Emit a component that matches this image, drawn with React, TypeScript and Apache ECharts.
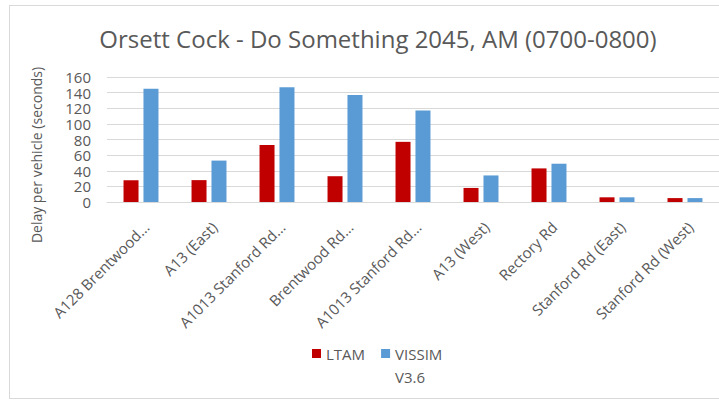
import React, { useEffect, useRef } from "react";
import * as echarts from "echarts";

const titleText = "Orsett Cock - Do Something 2045, AM (0700-0800)";
const yAxisName = "Delay per vehicle (seconds)";
const categories = [
  "A128 Brentwood…",
  "A13 (East)",
  "A1013 Stanford Rd…",
  "Brentwood Rd…",
  "A1013 Stanford Rd…",
  "A13 (West)",
  "Rectory Rd",
  "Stanford Rd (East)",
  "Stanford Rd (West)",
];
const ltam = [28, 28, 73, 33, 77, 18, 43, 6, 5];
const vissim = [145, 53, 147, 137, 117, 34, 49, 6, 5];
const seriesNames = ["LTAM", "VISSIM"];
const legendSubText = "V3.6";

const FONT = "'Open Sans', sans-serif";
const TXT = "#595959";

export default function App() {
  const ref = useRef<HTMLDivElement>(null);
  useEffect(() => {
    if (!ref.current) return;
    const chart = echarts.init(ref.current, null, { renderer: "svg" });
    chart.setOption({
      animation: false,
      textStyle: { fontFamily: FONT },
      title: {
        text: titleText,
        left: 373,
        top: 21,
        textAlign: "center",
        textStyle: { fontFamily: FONT, fontSize: 24, fontWeight: "normal", color: TXT },
      },
      legend: {
        left: 312,
        top: 346,
        padding: 0,
        icon: "rect",
        itemWidth: 9,
        itemHeight: 9,
        itemGap: 16,
        textStyle: { fontFamily: FONT, fontSize: 15, color: TXT },
        data: seriesNames,
      },
      graphic: [
        {
          type: "text",
          x: 395,
          y: 377,
          style: {
            text: legendSubText,
            fontFamily: FONT,
            fontSize: 15,
            fill: TXT,
            textVerticalAlign: "middle",
          },
        },
        {
          type: "text",
          x: 36,
          y: 155,
          rotation: Math.PI / 2,
          style: {
            text: yAxisName,
            fontFamily: FONT,
            fontSize: 14,
            fill: TXT,
            textAlign: "center",
            textVerticalAlign: "middle",
          },
        },
      ],
      grid: { left: 107, right: 0, top: 77, bottom: 198, containLabel: false },
      xAxis: {
        type: "category",
        data: categories,
        axisLine: { show: true, lineStyle: { color: "#d9d9d9", width: 1 } },
        axisTick: { show: false },
        axisLabel: {
          interval: 0,
          rotate: 45,
          margin: 17,
          verticalAlign: "top",
          fontFamily: FONT,
          fontSize: 15,
          color: TXT,
        },
      },
      yAxis: {
        type: "value",
        min: 0,
        max: 160,
        interval: 20,
        axisLine: { show: false },
        axisTick: { show: false },
        splitLine: { lineStyle: { color: "#d9d9d9", width: 1 } },
        axisLabel: { margin: 16, fontFamily: FONT, fontSize: 15, color: TXT },
      },
      series: [
        {
          name: seriesNames[0],
          type: "bar",
          data: ltam,
          barWidth: 15,
          barGap: "33%",
          itemStyle: { color: "#C00000" },
        },
        {
          name: seriesNames[1],
          type: "bar",
          data: vissim,
          barWidth: 15,
          barGap: "33%",
          itemStyle: { color: "#5B9BD5" },
        },
      ],
    });
    return () => chart.dispose();
  }, []);
  return (
    <div style={{ position: "fixed", left: 0, top: 0, width: 719, height: 400, overflow: "hidden", background: "#fff" }}>
      <div
        style={{
          position: "absolute",
          left: 9,
          top: 5,
          width: 800,
          height: 392,
          border: "1px solid #d9d9d9",
        }}
      />
      <div ref={ref} style={{ position: "absolute", left: 0, top: 0, width: 719, height: 400 }} />
    </div>
  );
}
